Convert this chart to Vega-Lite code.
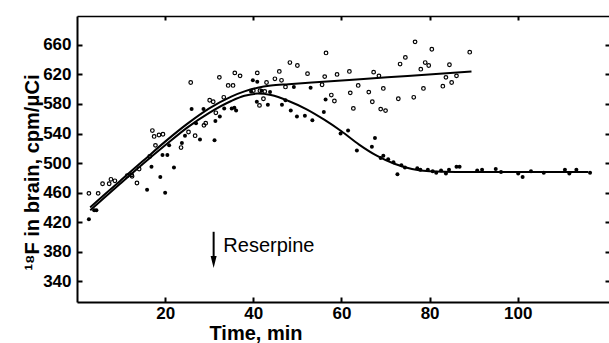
{
  "$schema": "https://vega.github.io/schema/vega-lite/v6.json",
  "width": 532,
  "height": 286,
  "autosize": {"type": "none"},
  "padding": {"left": 77, "top": 16, "right": 0, "bottom": 41},
  "background": "white",
  "config": {"view": {"stroke": null}, "font": "Liberation Sans"},
  "datasets": {
    "open": [
      {"t":2.7,"v":459},{"t":4.8,"v":459},{"t":5.8,"v":472},{"t":7.3,"v":472},{"t":7.7,"v":478},{"t":8.6,"v":476},
      {"t":11.4,"v":483},{"t":12.4,"v":484},{"t":12.5,"v":482},{"t":13.6,"v":473},{"t":14.1,"v":492},{"t":16.5,"v":509},
      {"t":17.1,"v":544},{"t":17.5,"v":536},{"t":17.8,"v":524},{"t":18.6,"v":538},{"t":19.5,"v":539},{"t":23.6,"v":521},
      {"t":25.3,"v":542},{"t":25.8,"v":609},{"t":26.8,"v":537},{"t":28.8,"v":551},{"t":29.2,"v":554},{"t":30.1,"v":585},
      {"t":30.9,"v":583},{"t":31.5,"v":568},{"t":32.3,"v":616},{"t":33.3,"v":589},{"t":34.3,"v":605},{"t":35.4,"v":605},
      {"t":35.8,"v":622},{"t":37,"v":618},{"t":40,"v":598},{"t":40.9,"v":622},{"t":41.4,"v":578},{"t":41.5,"v":598},
      {"t":42.3,"v":587},{"t":42.6,"v":597},{"t":43,"v":609},{"t":44.9,"v":614},{"t":45.9,"v":624},{"t":46.4,"v":612},
      {"t":47.3,"v":603},{"t":48.3,"v":636},{"t":50,"v":632},{"t":52.3,"v":621},{"t":55.6,"v":606},{"t":56.2,"v":617},
      {"t":56.5,"v":649},{"t":57.7,"v":592},{"t":58.4,"v":584},{"t":59,"v":620},{"t":61.8,"v":624},{"t":62,"v":595},
      {"t":62.7,"v":574},{"t":63.8,"v":605},{"t":66.2,"v":596},{"t":67,"v":583},{"t":67.3,"v":623},{"t":68.5,"v":618},
      {"t":68.9,"v":573},{"t":69.5,"v":601},{"t":70,"v":571},{"t":72.9,"v":587},{"t":73.3,"v":634},{"t":74.5,"v":643},
      {"t":76.4,"v":589},{"t":76.7,"v":664},{"t":78,"v":627},{"t":78.6,"v":601},{"t":79,"v":636},{"t":79.8,"v":632},
      {"t":80.5,"v":654},{"t":83,"v":604},{"t":83.7,"v":616},{"t":84.5,"v":633},{"t":85,"v":609},{"t":86.1,"v":618},
      {"t":89.1,"v":650}
    ],
    "filled": [
      {"t":2.7,"v":424},{"t":3.9,"v":436},{"t":4.4,"v":436},{"t":15.9,"v":464},{"t":16.9,"v":495},{"t":18.9,"v":481},
      {"t":19.4,"v":511},{"t":20,"v":460},{"t":20.5,"v":511},{"t":20.9,"v":524},{"t":22,"v":494},{"t":23.8,"v":527},
      {"t":24.5,"v":537},{"t":26,"v":573},{"t":27,"v":554},{"t":27.9,"v":532},{"t":28.7,"v":573},{"t":31.2,"v":531},
      {"t":31.4,"v":557},{"t":32.4,"v":563},{"t":33.4,"v":574},{"t":35.1,"v":574},{"t":35.7,"v":575},{"t":36.1,"v":571},
      {"t":39.5,"v":597},{"t":39.9,"v":612},{"t":40.8,"v":583},{"t":40.9,"v":610},{"t":41.9,"v":598},{"t":43.3,"v":579},
      {"t":43.8,"v":596},{"t":46.5,"v":579},{"t":47.3,"v":585},{"t":48.5,"v":571},{"t":49.2,"v":603},{"t":49.9,"v":563},
      {"t":51.7,"v":564},{"t":53,"v":602},{"t":53.4,"v":558},{"t":56,"v":569},{"t":56.4,"v":586},{"t":59.8,"v":540},
      {"t":61.5,"v":544},{"t":63.5,"v":517},{"t":66.9,"v":522},{"t":67.6,"v":534},{"t":68.9,"v":507},{"t":69.5,"v":510},
      {"t":70.6,"v":505},{"t":71.8,"v":501},{"t":72.7,"v":485},{"t":73.6,"v":497},{"t":74.4,"v":494},{"t":77.2,"v":493},
      {"t":77.9,"v":491},{"t":79.6,"v":491},{"t":80.7,"v":489},{"t":81.5,"v":487},{"t":82.6,"v":490},{"t":83.7,"v":486},
      {"t":84.4,"v":491},{"t":86.1,"v":495},{"t":86.8,"v":495},{"t":90.8,"v":490},{"t":91.9,"v":491},{"t":95,"v":492},
      {"t":96.2,"v":488},{"t":100.1,"v":486},{"t":101.1,"v":481},{"t":103,"v":489},{"t":105.9,"v":487},{"t":110.7,"v":491},
      {"t":111.7,"v":486},{"t":113.3,"v":491},{"t":116.4,"v":487}
    ],
    "curves": [
      {"g":"control","t":3,"v":440},{"g":"control","t":6,"v":456},{"g":"control","t":10,"v":477},{"g":"control","t":15,"v":503},
      {"g":"control","t":20,"v":529},{"g":"control","t":25,"v":553},{"g":"control","t":30,"v":574},{"g":"control","t":35,"v":590},
      {"g":"control","t":38,"v":597},{"g":"control","t":41,"v":602},{"g":"control","t":44,"v":605},{"g":"control","t":48,"v":606.8},
      {"g":"control","t":55,"v":609.7},{"g":"control","t":65,"v":613.8},{"g":"control","t":75,"v":617.9},{"g":"control","t":89.5,"v":624},
      {"g":"reserpine","t":3,"v":436},{"g":"reserpine","t":6,"v":452},{"g":"reserpine","t":10,"v":473},{"g":"reserpine","t":15,"v":499},
      {"g":"reserpine","t":20,"v":524},{"g":"reserpine","t":25,"v":548},{"g":"reserpine","t":30,"v":568},{"g":"reserpine","t":35,"v":584},
      {"g":"reserpine","t":38,"v":591},{"g":"reserpine","t":41,"v":594},{"g":"reserpine","t":44,"v":592},{"g":"reserpine","t":48,"v":584},
      {"g":"reserpine","t":52,"v":573},{"g":"reserpine","t":56,"v":559},{"g":"reserpine","t":60,"v":543},{"g":"reserpine","t":64,"v":525},
      {"g":"reserpine","t":68,"v":510},{"g":"reserpine","t":72,"v":499},{"g":"reserpine","t":76,"v":492},{"g":"reserpine","t":80,"v":489},
      {"g":"reserpine","t":86,"v":488},{"g":"reserpine","t":100,"v":488},{"g":"reserpine","t":116,"v":488}
    ],
    "arrow": [{"t":31,"v":407,"v2":366,"label":"Reserpine","tx":33.2,"ty":380}]
  },
  "layer": [
    {
      "data": {"name": "open"},
      "mark": {"type": "point", "filled": false, "stroke": "black", "strokeWidth": 1.2, "size": 13, "opacity": 1},
      "encoding": {
        "x": {"field": "t", "type": "quantitative",
          "scale": {"domain": [0, 120.7], "nice": false, "zero": false},
          "axis": {"values": [20, 40, 60, 80, 100], "grid": false, "domainColor": "black", "domainWidth": 2,
            "tickColor": "black", "tickWidth": 2, "tickSize": -5, "labelPadding": 8,
            "labelFontSize": 17, "labelFontWeight": "bold", "labelColor": "black",
            "title": "Time, min", "titleFontSize": 20, "titleFontWeight": "bold", "titleColor": "black",
            "titleX": 178.5, "titleY": 37.5, "titleAlign": "center", "titleBaseline": "alphabetic"}},
        "y": {"field": "v", "type": "quantitative",
          "scale": {"domain": [312, 699], "nice": false, "zero": false},
          "axis": {"values": [340, 380, 420, 460, 500, 540, 580, 620, 660], "grid": false, "domainColor": "black", "domainWidth": 2,
            "tickColor": "black", "tickWidth": 2, "tickSize": -5, "labelPadding": 11,
            "labelFontSize": 17, "labelFontWeight": "bold", "labelColor": "black",
            "title": "¹⁸F in brain, cpm/μCi", "titleFontSize": 20, "titleFontWeight": "bold", "titleColor": "black",
            "titleX": -39, "titleY": 156, "titleAngle": -90, "titleAlign": "center", "titleBaseline": "alphabetic"}}
      }
    },
    {
      "data": {"name": "filled"},
      "mark": {"type": "circle", "color": "black", "size": 16, "opacity": 1},
      "encoding": {
        "x": {"field": "t", "type": "quantitative", "axis": null},
        "y": {"field": "v", "type": "quantitative", "axis": null}
      }
    },
    {
      "data": {"name": "curves"},
      "mark": {"type": "line", "color": "black", "strokeWidth": 2, "interpolate": "monotone"},
      "encoding": {
        "x": {"field": "t", "type": "quantitative", "axis": null},
        "y": {"field": "v", "type": "quantitative", "axis": null},
        "detail": {"field": "g"}
      }
    },
    {
      "data": {"name": "arrow"},
      "mark": {"type": "rule", "color": "black", "strokeWidth": 2},
      "encoding": {
        "x": {"field": "t", "type": "quantitative",
          "axis": {"orient": "top", "values": [20, 40, 60, 80, 100], "labels": false, "title": null, "grid": false,
            "domainColor": "black", "domainWidth": 1.5, "tickColor": "black", "tickWidth": 2, "tickSize": -4}},
        "y": {"field": "v", "type": "quantitative",
          "axis": {"orient": "right", "values": [340, 380, 420, 460, 500, 540, 580, 620, 660], "labels": false, "title": null,
            "grid": false, "domain": false, "tickColor": "black", "tickWidth": 2, "tickSize": -4}},
        "y2": {"field": "v2"}
      }
    },
    {
      "data": {"name": "arrow"},
      "mark": {"type": "point", "shape": "M-0.6,-1.2L0.6,-1.2L0,1.2Z", "size": 100, "filled": true, "color": "black", "opacity": 1},
      "encoding": {
        "x": {"field": "t", "type": "quantitative", "axis": null},
        "y": {"field": "v2", "type": "quantitative", "axis": null}
      }
    },
    {
      "data": {"name": "arrow"},
      "mark": {"type": "text", "align": "left", "baseline": "alphabetic", "fontSize": 20, "fontWeight": "normal", "color": "black", "font": "Liberation Sans"},
      "encoding": {
        "x": {"field": "tx", "type": "quantitative", "axis": null},
        "y": {"field": "ty", "type": "quantitative", "axis": null},
        "text": {"field": "label"}
      }
    }
  ],
  "resolve": {"axis": {"x": "independent", "y": "independent"}}
}
